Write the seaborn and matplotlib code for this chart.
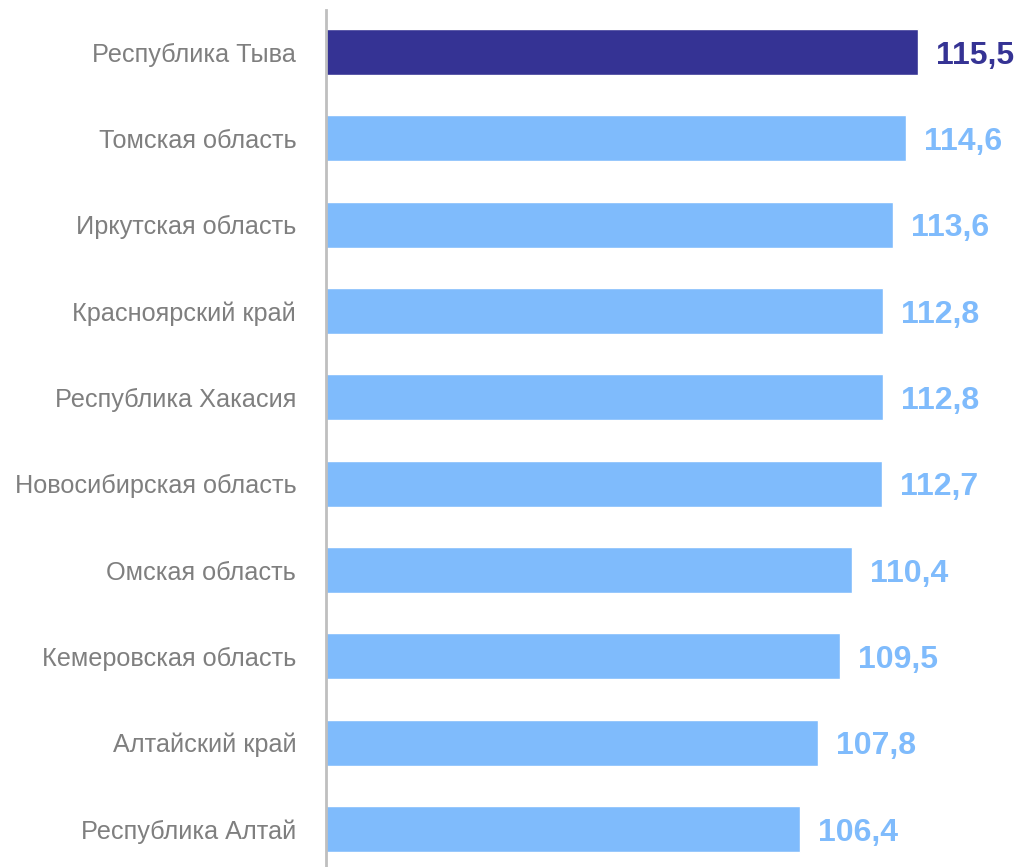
import matplotlib
matplotlib.use("Agg")
import matplotlib.pyplot as plt
import seaborn as sns
import pandas as pd

regions = ["Республика Тыва", "Томская область", "Иркутская область", "Красноярский край",
           "Республика Хакасия", "Новосибирская область", "Омская область",
           "Кемеровская область", "Алтайский край", "Республика Алтай"]
values = [115.5, 114.6, 113.6, 112.8, 112.8, 112.7, 110.4, 109.5, 107.8, 106.4]
labels = ["115,5", "114,6", "113,6", "112,8", "112,8", "112,7", "110,4", "109,5", "107,8", "106,4"]
groups = ["top"] + ["other"] * 9

DARK = "#353394"
LIGHT = "#7FBBFC"

sns.set_theme(style="white")
plt.rcParams['font.family'] = ['Liberation Sans', 'DejaVu Sans']

df = pd.DataFrame({"region": regions, "value": values, "group": groups})

fig = plt.figure(figsize=(10.15, 8.67), dpi=100)
ax = fig.add_axes([326 / 1015, 0, 1 - 326 / 1015, 857 / 867])

x0 = 69.85
sns.barplot(data=df, y="region", x="value", hue="group",
            palette={"top": DARK, "other": LIGHT}, width=0.53,
            dodge=False, legend=False, ax=ax, saturation=1, orient="h")

ax.set_xlim(x0, x0 + 689 / 12.97)
ax.set_ylim(9.44, -0.487)

for i, (v, lab, g) in enumerate(zip(values, labels, groups)):
    ax.text(v + 18 / 12.97, i, lab, va="center_baseline", ha="left", fontsize=23,
            fontweight="bold", color=DARK if g == "top" else LIGHT)

ax.set_xlabel("")
ax.set_ylabel("")
ax.set_xticks([])
ax.tick_params(axis="y", length=0, pad=21.5, labelsize=18.2, labelcolor="#7F7F7F")
for s in ["top", "right", "bottom"]:
    ax.spines[s].set_visible(False)
ax.spines["left"].set_color("#BFBFBF")
ax.spines["left"].set_linewidth(2)

fig.savefig("out.png", dpi=100)
